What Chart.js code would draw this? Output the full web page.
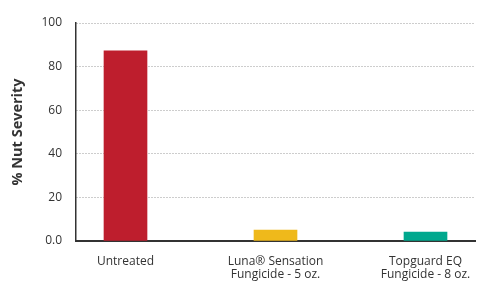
<!DOCTYPE html>
<html>
<head>
<meta charset="utf-8">
<script src="https://cdn.jsdelivr.net/npm/chart.js@4/dist/chart.umd.min.js"></script>
<style>
  html, body { margin: 0; padding: 0; background: #fff; }
  #wrap { width: 478px; height: 281px; }
</style>
</head>
<body>
<div id="wrap"><canvas id="severity-chart"></canvas></div>
<script>
// Values
const categories = [
    ['Untreated'],
    ['Luna\u00ae Sensation', 'Fungicide - 5 oz.'],
    ['Topguard EQ', 'Fungicide - 8 oz.']
];
const severity = [87.2, 5.0, 4.1];
const barColors = ['#BE1E2D', '#EFB91B', '#00A88E'];
const yTicks = [0, 20, 40, 60, 80, 100];

const fontFamily = '"Open Sans", "Noto Sans", sans-serif';

const ctx = document.getElementById('severity-chart').getContext('2d');
new Chart(ctx, {
    type: 'bar',
    data: {
        datasets: [{
            data: severity.map((v, i) => ({ x: i, y: v })),
            backgroundColor: barColors,
            borderWidth: 0,
            barThickness: 43
        }]
    },
    options: {
        responsive: true,
        maintainAspectRatio: false,
        animation: false,
        events: [],
        layout: { padding: { top: 23, right: 3, bottom: 0, left: 9 } },
        plugins: {
            legend: { display: false },
            tooltip: { enabled: false }
        },
        scales: {
            x: {
                type: 'linear',
                min: -0.33,
                max: 2.33,
                offset: false,
                grid: { display: false, offset: false },
                border: { display: true, color: '#333333', width: 2 },
                afterBuildTicks: scale => {
                    scale.ticks = categories.map((c, i) => ({ value: i }));
                },
                afterFit: scale => { scale.height = 40; },
                ticks: {
                    padding: 6,
                    color: '#333333',
                    font: { family: fontFamily, size: 12, lineHeight: 1.08 },
                    maxRotation: 0,
                    autoSkip: false,
                    callback: value => categories[value]
                }
            },
            y: {
                min: 0,
                max: 100,
                afterBuildTicks: scale => {
                    scale.ticks = yTicks.map(v => ({ value: v }));
                },
                afterFit: scale => { scale.width = 67; },
                grid: {
                    color: '#9a9a9a',
                    lineWidth: 1,
                    drawTicks: false
                },
                border: { display: true, color: '#333333', width: 1.5, dash: [1, 2] },
                ticks: {
                    padding: 14,
                    color: '#333333',
                    font: { family: fontFamily, size: 12 },
                    callback: value => value === 0 ? '0.0' : value
                },
                title: {
                    display: true,
                    text: '% Nut Severity',
                    color: '#333333',
                    padding: { top: 0, bottom: 4 },
                    font: { family: fontFamily, size: 14.5, weight: 'bold' }
                }
            }
        }
    }
});
</script>
</body>
</html>
